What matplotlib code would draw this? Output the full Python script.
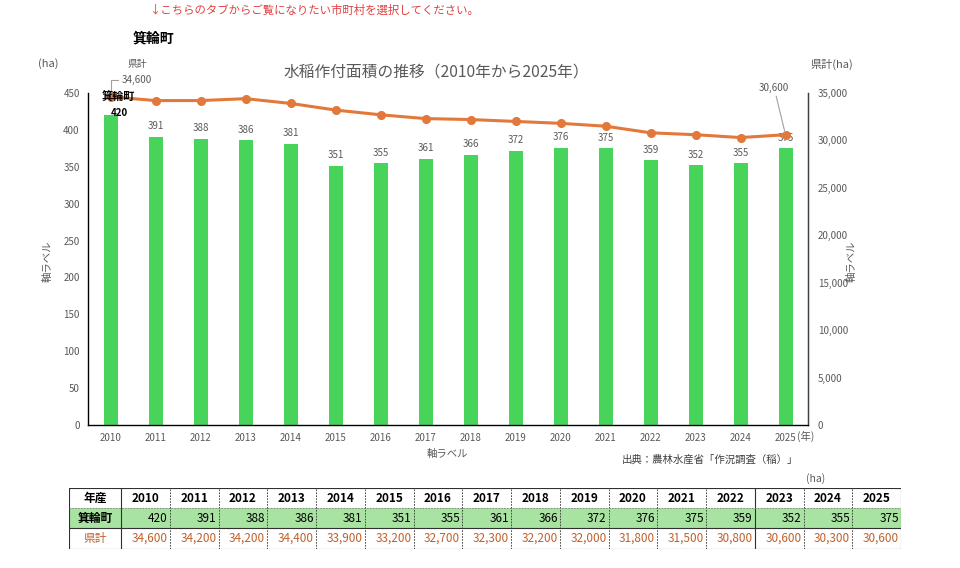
import numpy as np
import matplotlib.pyplot as plt
from matplotlib.patches import Rectangle

plt.rcParams['font.family'] = ['Noto Sans CJK JP', 'DejaVu Sans']

years = [2010, 2011, 2012, 2013, 2014, 2015, 2016, 2017, 2018, 2019, 2020, 2021, 2022, 2023, 2024, 2025]
town = [420, 391, 388, 386, 381, 351, 355, 361, 366, 372, 376, 375, 359, 352, 355, 375]
pref = [34600, 34200, 34200, 34400, 33900, 33200, 32700, 32300, 32200, 32000, 31800, 31500, 30800, 30600, 30300, 30600]
town_name = "箕輪町"

bar_color = "#48D35B"
line_color = "#E2783A"
gray = "#595959"

fig = plt.figure(figsize=(9.6, 5.68), dpi=100)
ax = fig.add_axes([0.0917, 0.2518, 0.75, 0.5845])
x = np.arange(len(years))

ax.bar(x, town, width=0.31, color=bar_color, zorder=2)
ax.set_xlim(-0.5, len(years) - 0.5)
ax.set_ylim(0, 450)
ax.set_yticks(np.arange(0, 451, 50))
ax.set_xticks(x)
ax.set_xticklabels([str(y) for y in years])
ax.tick_params(axis="both", length=0, labelsize=7, colors=gray, pad=6)
ax.tick_params(axis="y", pad=6)
ax.spines["top"].set_visible(False)
for s in ["left", "bottom", "right"]:
    ax.spines[s].set_color("#404040")
    ax.spines[s].set_linewidth(1.0)

for i, v in enumerate(town):
    if i == 0:
        ax.annotate(str(v), (i, v), xytext=(6, 1.5), textcoords="offset points",
                    ha="center", va="center", fontsize=7, fontweight="bold", color="black",
                    zorder=5)
    else:
        ax.annotate(str(v), (i, v), xytext=(0, 4), textcoords="offset points",
                    ha="center", va="bottom", fontsize=7, color=gray)

ax2 = ax.twinx()
ax2.plot(x, pref, color=line_color, lw=2.2, marker="o", markersize=5.5, zorder=3)
ax2.set_ylim(0, 35000)
ax2.set_yticks(np.arange(0, 35001, 5000))
ax2.set_yticklabels([f"{v:,}" for v in range(0, 35001, 5000)])
ax2.tick_params(axis="y", length=0, labelsize=7, colors=gray, pad=7)
ax2.spines["top"].set_visible(False)
ax2.spines["right"].set_color("#404040")

# 県計 leader labels
ax2.annotate("34,600", (0, pref[0]), xytext=(0.25, 36400), textcoords="data",
             fontsize=7, color=gray, ha="left", va="center",
             arrowprops=dict(arrowstyle="-", color="#a0a0a0", lw=0.8,
                             connectionstyle="angle,angleA=0,angleB=90,rad=0",
                             shrinkA=1, shrinkB=3))
ax2.text(0.37, 38100, "県計", fontsize=7, color=gray, ha="left", va="center")
ax2.annotate("30,600", (15, pref[-1]), xytext=(14.75, 34950), textcoords="data",
             fontsize=7, color=gray, ha="center", va="bottom",
             arrowprops=dict(arrowstyle="-", color="#a0a0a0", lw=0.8, shrinkA=0, shrinkB=3))
ax2.text(0.17, pref[0] - 100, town_name, fontsize=8, fontweight="bold", color="black",
         ha="center", va="center", zorder=6)

# titles and labels
fig.text(0.455, 0.874, "水稲作付面積の推移（2010年から2025年）", fontsize=11.3, color=gray,
         ha="center", va="center")
fig.text(0.05, 0.889, "(ha)", fontsize=8, color=gray, ha="center", va="center")
fig.text(0.866, 0.886, "県計(ha)", fontsize=8, color=gray, ha="center", va="center")
fig.text(0.05, 0.54, "軸ラベル", fontsize=7.5, color=gray, rotation=90, ha="center", va="center")
fig.text(0.887, 0.54, "軸ラベル", fontsize=7.5, color=gray, rotation=90, ha="center", va="center")
fig.text(0.466, 0.201, "軸ラベル", fontsize=7.5, color=gray, ha="center", va="center")
fig.text(0.8395, 0.231, "(年)", fontsize=7.5, color=gray, ha="center", va="center")
fig.text(0.74, 0.19, "出典：農林水産省「作況調査（稲）」", fontsize=7.5, color="#404040",
         ha="center", va="center")
fig.text(0.1555, 0.982, "↓こちらのタブからご覧になりたい市町村を選択してください。", fontsize=8.2,
         color="#E04040", ha="left", va="center")
fig.text(0.138, 0.933, town_name, fontsize=10, fontweight="bold", color="black",
         ha="left", va="center")
fig.text(0.85, 0.157, "(ha)", fontsize=7.5, color=gray, ha="center", va="center")

# data table
tx = fig.add_axes([69 / 960, 1 - 549 / 568, (901 - 69) / 960, 61 / 568])
tx.set_xlim(0, 832)
tx.set_ylim(-0.02, 3)
tx.axis("off")
first_w = 52
col_w = (832 - first_w) / len(years)
rows = [("年産", [str(y) for y in years], "white", "black", True),
        (town_name, [str(v) for v in town], "#A8E3A2", "black", False),
        ("県計", [f"{v:,}" for v in pref], "white", "#C0602A", False)]
for r, (head, vals, bg, fg, is_head) in enumerate(rows):
    yb = 2 - r
    tx.add_patch(Rectangle((0, yb), 832, 1, facecolor=bg, edgecolor="none"))
    tx.text(first_w / 2, yb + 0.5, head, ha="center", va="center", fontsize=8.5,
            color=fg, fontweight="bold" if r < 2 else "normal")
    for j, v in enumerate(vals):
        x0 = first_w + j * col_w
        if is_head:
            tx.text(x0 + col_w / 2, yb + 0.5, v, ha="center", va="center", fontsize=8.5,
                    fontweight="bold", color="black")
        else:
            tx.text(x0 + col_w - 2, yb + 0.5, v, ha="right", va="center", fontsize=8.5,
                    color=fg)
for j in range(len(years) + 1):
    xl = first_w + j * col_w
    solid = j in (0, 13, len(years))
    tx.plot([xl, xl], [0, 3], color="#303030", lw=0.8 if solid else 0.6,
            ls="-" if solid else (0, (2, 1.5)))
tx.plot([0, 0], [0, 3], color="#303030", lw=0.8)
for yl in [0, 3]:
    tx.plot([0, 832], [yl, yl], color="#303030", lw=0.8)
tx.plot([0, 832], [2, 2], color="#808080", lw=0.6, ls=(0, (2, 1.5)))
tx.plot([0, 832], [1, 1], color="#303030", lw=0.8)

fig.savefig("out.png", dpi=100)
